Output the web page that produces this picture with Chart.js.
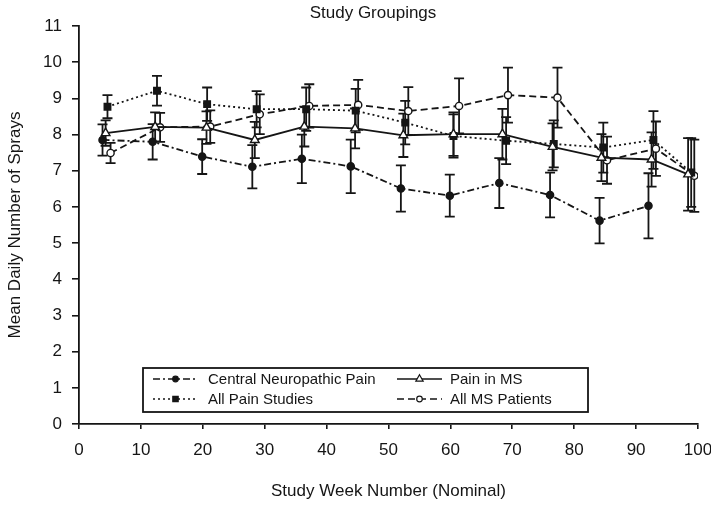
<!DOCTYPE html>
<html>
<head>
<meta charset="utf-8">
<script src="https://cdn.jsdelivr.net/npm/chart.js@4.4.1/dist/chart.umd.min.js"></script>
<style>
  html, body { margin: 0; padding: 0; background: #fff; }
  canvas { display: block; }
</style>
</head>
<body>
<canvas id="chart" width="711" height="505"></canvas>
<script>
// Mean daily sprays by nominal study week, with error bar half-widths
const weeksCNP   = [3.8, 11.9, 19.9, 28.0, 36.0, 43.9, 52.0, 59.9, 67.9, 76.1, 84.1, 92.0];
const meanCNP    = [7.85, 7.80, 7.39, 7.11, 7.33, 7.12, 6.51, 6.31, 6.66, 6.33, 5.62, 6.03];
const errCNP     = [0.43, 0.49, 0.48, 0.60, 0.67, 0.74, 0.64, 0.58, 0.69, 0.62, 0.63, 0.90];

const weeksPainMS = [4.3, 12.3, 20.6, 28.4, 36.4, 44.6, 52.4, 60.5, 68.4, 76.5, 84.4, 92.5, 98.4];
const meanPainMS  = [8.04, 8.21, 8.19, 7.85, 8.22, 8.17, 7.98, 8.01, 8.01, 7.66, 7.36, 7.31, 6.90];
const errPainMS   = [0.35, 0.40, 0.45, 0.50, 0.55, 0.55, 0.60, 0.60, 0.70, 0.65, 0.65, 0.75, 1.00];

const weeksAllPain = [4.6, 12.6, 20.7, 28.7, 36.7, 44.7, 52.7, 60.5, 69.0, 76.7, 84.7, 92.8, 98.9];
const meanAllPain  = [8.77, 9.21, 8.84, 8.70, 8.70, 8.66, 8.33, 7.96, 7.83, 7.74, 7.64, 7.85, 6.95];
const errAllPain   = [0.32, 0.41, 0.46, 0.50, 0.60, 0.60, 0.60, 0.60, 0.65, 0.65, 0.69, 0.80, 0.95];

const weeksAllMS = [5.1, 13.1, 21.2, 29.2, 37.2, 45.1, 53.2, 61.4, 69.3, 77.3, 85.3, 93.2, 99.4];
const meanAllMS  = [7.49, 8.20, 8.22, 8.56, 8.79, 8.82, 8.65, 8.79, 9.09, 9.02, 7.29, 7.61, 6.86];
const errAllMS   = [0.28, 0.40, 0.45, 0.55, 0.60, 0.69, 0.66, 0.76, 0.76, 0.83, 0.65, 0.75, 1.00];

const seriesNames = ['Central Neuropathic Pain', 'Pain in MS', 'All Pain Studies', 'All MS Patients'];
const xTickStep = 10;
const yMax = 11;

const INK = '#151515';
const FONT = "'Liberation Sans', Arial, Helvetica, sans-serif";

function points(weeks, means) {
  return weeks.map((w, i) => ({ x: w, y: means[i] }));
}

const seriesStyles = [
  { dash: [7, 3, 2, 3], pointStyle: 'circle',   radius: 3.6, fill: INK },
  { dash: [],           pointStyle: 'triangle', radius: 5,   fill: '#fff' },
  { dash: [2, 3],       pointStyle: 'rect',     radius: 4.6, fill: INK },
  { dash: [7, 4],       pointStyle: 'circle',   radius: 3.6, fill: '#fff' }
];

const seriesData = [
  { weeks: weeksCNP, means: meanCNP, errs: errCNP },
  { weeks: weeksPainMS, means: meanPainMS, errs: errPainMS },
  { weeks: weeksAllPain, means: meanAllPain, errs: errAllPain },
  { weeks: weeksAllMS, means: meanAllMS, errs: errAllMS }
];

const datasets = seriesData.map((s, k) => ({
  label: seriesNames[k],
  data: points(s.weeks, s.means),
  errors: s.errs,
  borderColor: INK,
  borderWidth: 1.8,
  borderDash: seriesStyles[k].dash,
  tension: 0,
  pointStyle: seriesStyles[k].pointStyle,
  pointRadius: seriesStyles[k].radius,
  pointBackgroundColor: seriesStyles[k].fill,
  pointBorderColor: INK,
  pointBorderWidth: 1.4
}));

// Vertical error bars with caps, placed through the chart scales
const errorBars = {
  id: 'errorBars',
  beforeDatasetsDraw(chart) {
    const { ctx, scales: { x, y } } = chart;
    ctx.save();
    ctx.strokeStyle = INK;
    ctx.lineWidth = 1.8;
    ctx.setLineDash([]);
    chart.data.datasets.forEach(ds => {
      ds.data.forEach((p, i) => {
        const e = ds.errors[i];
        const px = x.getPixelForValue(p.x);
        const top = y.getPixelForValue(p.y + e);
        const bot = y.getPixelForValue(p.y - e);
        ctx.beginPath();
        ctx.moveTo(px, top); ctx.lineTo(px, bot);
        ctx.moveTo(px - 5, top); ctx.lineTo(px + 5, top);
        ctx.moveTo(px - 5, bot); ctx.lineTo(px + 5, bot);
        ctx.stroke();
      });
    });
    ctx.restore();
  }
};

// Heading above the plot
const heading = {
  id: 'heading',
  afterDraw(chart) {
    const { ctx } = chart;
    ctx.save();
    ctx.fillStyle = INK;
    ctx.font = '17px ' + FONT;
    ctx.textAlign = 'center';
    ctx.textBaseline = 'middle';
    ctx.fillText('Study Groupings', 373, 13);
    ctx.restore();
  }
};

// Boxed two-column key inside the lower part of the plot
const keyBox = {
  id: 'keyBox',
  afterDraw(chart) {
    const { ctx } = chart;
    const bx = 143, by = 368, bw = 445, bh = 44;
    ctx.save();
    ctx.fillStyle = '#fff';
    ctx.fillRect(bx, by, bw, bh);
    ctx.strokeStyle = INK;
    ctx.lineWidth = 1.8;
    ctx.strokeRect(bx, by, bw, bh);
    const slots = [
      { x0: 153, x1: 198, tx: 208, y: 379 },
      { x0: 397, x1: 442, tx: 450, y: 379 },
      { x0: 153, x1: 198, tx: 208, y: 399 },
      { x0: 397, x1: 442, tx: 450, y: 399 }
    ];
    seriesStyles.forEach((st, k) => {
      const s = slots[k];
      ctx.strokeStyle = INK;
      ctx.lineWidth = 1.5;
      ctx.setLineDash(st.dash);
      ctx.beginPath();
      ctx.moveTo(s.x0, s.y); ctx.lineTo(s.x1, s.y);
      ctx.stroke();
      ctx.setLineDash([]);
      ctx.fillStyle = st.fill;
      ctx.lineWidth = 1.2;
      Chart.helpers.drawPoint(ctx, { pointStyle: st.pointStyle, radius: st.radius - 0.8, rotation: 0, borderWidth: 1.2 }, (s.x0 + s.x1) / 2, s.y);
      ctx.fillStyle = INK;
      ctx.font = '15px ' + FONT;
      ctx.textAlign = 'left';
      ctx.textBaseline = 'middle';
      ctx.fillText(seriesNames[k], s.tx, s.y + 1);
    });
    ctx.restore();
  }
};

Chart.defaults.font.family = FONT;
Chart.defaults.font.size = 17;
Chart.defaults.color = INK;

new Chart(document.getElementById('chart'), {
  type: 'line',
  data: { datasets },
  plugins: [errorBars, heading, keyBox],
  options: {
    responsive: false,
    animation: false,
    devicePixelRatio: 1,
    layout: { padding: { left: 0, right: 13, top: 26, bottom: 0 } },
    plugins: { legend: { display: false }, tooltip: { enabled: false } },
    scales: {
      x: {
        type: 'linear',
        min: 0, max: 100,
        ticks: { stepSize: xTickStep, padding: 11, color: INK, maxRotation: 0 },
        grid: { drawOnChartArea: false, drawTicks: true, tickLength: 5, color: INK, lineWidth: 1.6 },
        border: { display: true, color: INK, width: 1.8 },
        title: { display: true, text: 'Study Week Number (Nominal)', padding: { top: 0, bottom: 3 }, color: INK },
        afterFit(scale) { scale.height = 81; scale.paddingLeft = 0; scale.paddingRight = 0; }
      },
      y: {
        min: 0, max: yMax,
        ticks: { stepSize: 1, padding: 10, color: INK },
        grid: { drawOnChartArea: false, drawTicks: true, tickLength: 7, color: INK, lineWidth: 1.6 },
        border: { display: true, color: INK, width: 1.8 },
        title: { display: true, text: 'Mean Daily Number of Sprays', padding: { top: 5, bottom: 0 }, color: INK },
        afterFit(scale) { scale.width = 79; scale.paddingTop = 0; scale.paddingBottom = 0; }
      }
    }
  }
});
</script>
</body>
</html>
